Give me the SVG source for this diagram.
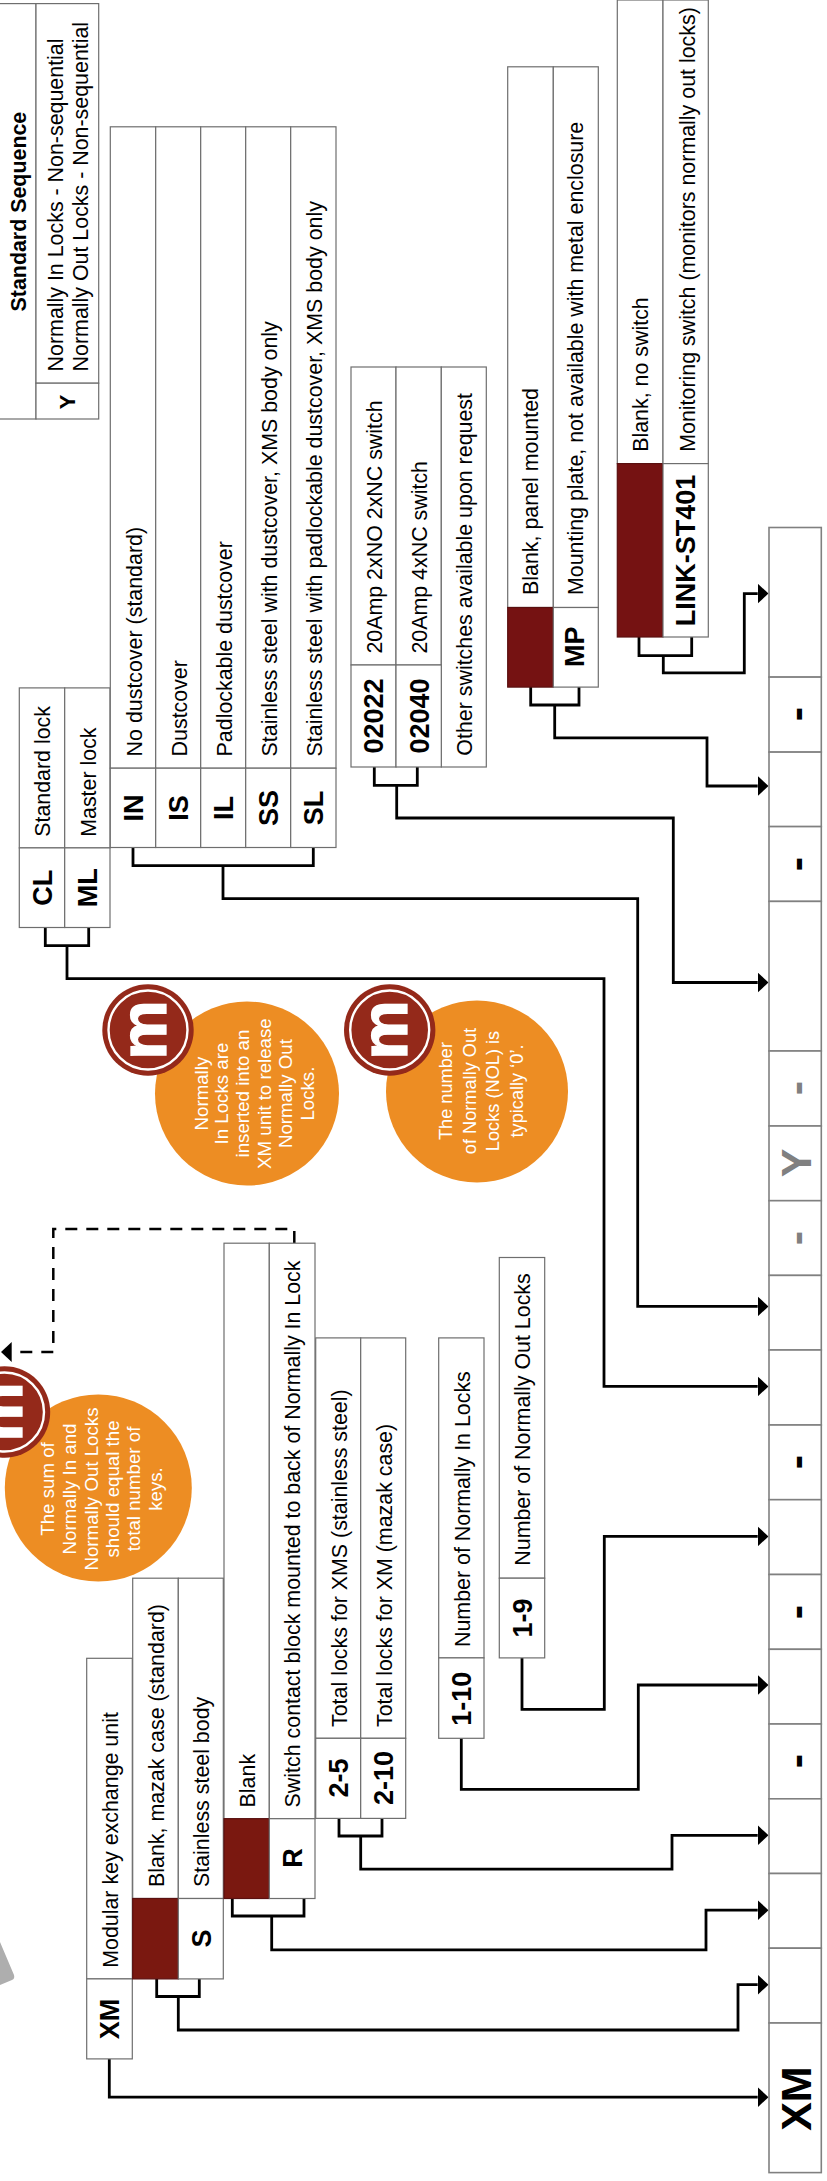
<svg xmlns="http://www.w3.org/2000/svg" width="827" height="2181" viewBox="0 0 827 2181">
<defs>
<style>
text{font-family:"Liberation Sans",Arial,sans-serif;fill:#000}
.t{font-size:21.4px}
.c{font-size:27px;font-weight:700;text-anchor:middle}
.y{font-size:22px}
.h{font-size:21.4px;font-weight:700;text-anchor:middle}
.b{fill:#fff;text-anchor:middle}
.s1{font-size:18.7px}
.s2{font-size:18.2px}
.m{fill:#fff;font-size:67px;font-weight:700;text-anchor:middle;stroke:#fff;stroke-width:1.2px}
.x{font-size:43px;font-weight:700;text-anchor:middle}
.g{fill:#808080}
rect{fill:#fff;stroke:#6e6e6e;stroke-width:1.2}
rect.r{fill:#751212;stroke:#5a1010}
rect.r2{fill:#7A1810;stroke:#5a1010}
rect.o{stroke:#808080;stroke-width:1.6}
.wire{fill:none;stroke:#000;stroke-width:2.8}
.dash{fill:none;stroke:#000;stroke-width:2.5;stroke-dasharray:12 9}
.bub{fill:#ED8D23}
.lg{fill:#94291A}
.rg{fill:none;stroke:#fff;stroke-width:2.4}
</style>
<marker id="ah" markerUnits="userSpaceOnUse" markerWidth="11" markerHeight="20" refX="0" refY="10" orient="auto"><path d="M0,0 L10.8,10 L0,20 z" fill="#000"/></marker>
</defs>

<path id="blob" d="M0,1942 L14,1975 Q15,1979 12,1980 L0,1985 z" fill="#AEAEAE"/>

<g id="connectors">
<path class="wire" marker-end="url(#ah)" d="M109.3,2058.9 V2097.2 H757.7"/>
<path class="wire" d="M156.7,1978.9 V1996.5 H199.3 V1978.9"/>
<path class="wire" marker-end="url(#ah)" d="M178.3,1996.5 V2030 H738 V1984.7 H757.7"/>
<path class="wire" d="M232.3,1898.5 V1916 H304 V1898.5"/>
<path class="wire" marker-end="url(#ah)" d="M271.7,1916 V1949.9 H706 V1910.2 H757.7"/>
<path class="wire" d="M339,1818.4 V1836 H382 V1818.4"/>
<path class="wire" marker-end="url(#ah)" d="M360.7,1836 V1869.1 H672 V1835.3 H757.7"/>
<path class="wire" marker-end="url(#ah)" d="M461.3,1738.3 V1789.4 H638.3 V1685 H757.7"/>
<path class="wire" marker-end="url(#ah)" d="M522,1657.9 V1709.4 H604.3 V1536.4 H757.7"/>
<path class="wire" d="M45.3,927.5 V945.7 H88.7 V927.5"/>
<path class="wire" marker-end="url(#ah)" d="M67,945.7 V978.6 H604 V1386.4 H757.7"/>
<path class="wire" d="M133,847.5 V865.7 H313.3 V847.5"/>
<path class="wire" marker-end="url(#ah)" d="M223,865.7 V898.6 H637.7 V1306.4 H757.7"/>
<path class="wire" d="M374.3,767 V785.4 H417.3 V767"/>
<path class="wire" marker-end="url(#ah)" d="M396.7,785.4 V818 H673.3 V982.5 H757.7"/>
<path class="wire" d="M530.7,687.1 V705 H579 V687.1"/>
<path class="wire" marker-end="url(#ah)" d="M554.7,705 V737.9 H707 V786 H757.7"/>
<path class="wire" d="M639,637 V655.7 H691.7 V637"/>
<path class="wire" marker-end="url(#ah)" d="M663.3,655.7 V672.9 H744.3 V593.6 H757.7"/>
<path class="dash" marker-end="url(#ah)" d="M294.3,1243 V1229 H53.3 V1352 H11.7"/>
</g>

<g id="note-nil">
<circle class="bub" cx="247" cy="1093.6" r="92"/>
<circle class="lg" cx="148" cy="1030" r="45.7"/>
<circle class="rg" cx="148" cy="1030" r="39.5"/>
<text class="m" transform="translate(165.5 1030) rotate(-90)">m</text>
<text class="b s1" transform="translate(208.3 1093.6) rotate(-90)">Normally</text>
<text class="b s1" transform="translate(227.7 1093.6) rotate(-90)">In Locks are</text>
<text class="b s1" transform="translate(249 1093.6) rotate(-90)">inserted into an</text>
<text class="b s1" transform="translate(270.7 1093.6) rotate(-90)">XM unit to release</text>
<text class="b s1" transform="translate(292 1093.6) rotate(-90)">Normally Out</text>
<text class="b s1" transform="translate(313.7 1093.6) rotate(-90)">Locks.</text>
</g>

<g id="note-nol">
<circle class="bub" cx="477" cy="1091.5" r="91"/>
<circle class="lg" cx="389.7" cy="1030" r="45.7"/>
<circle class="rg" cx="389.7" cy="1030" r="39.5"/>
<text class="m" transform="translate(407.2 1030) rotate(-90)">m</text>
<text class="b s2" transform="translate(451.7 1091) rotate(-90)">The number</text>
<text class="b s2" transform="translate(475.5 1091) rotate(-90)">of Normally Out</text>
<text class="b s2" transform="translate(499.3 1091) rotate(-90)">Locks (NOL) is</text>
<text class="b s2" transform="translate(523.3 1091) rotate(-90)">typically ‘0’.</text>
</g>

<g id="note-sum">
<circle class="bub" cx="98.3" cy="1488" r="93.5"/>
<circle class="lg" cx="4.5" cy="1412" r="45.7"/>
<circle class="rg" cx="4.5" cy="1412" r="39.5"/>
<text class="m" transform="translate(22 1412) rotate(-90)">m</text>
<text class="b s1" transform="translate(54.3 1489) rotate(-90)">The sum of</text>
<text class="b s1" transform="translate(76 1489) rotate(-90)">Normally In and</text>
<text class="b s1" transform="translate(97.7 1489) rotate(-90)">Normally Out Locks</text>
<text class="b s1" transform="translate(119 1489) rotate(-90)">should equal the</text>
<text class="b s1" transform="translate(140 1489) rotate(-90)">total number of</text>
<text class="b s1" transform="translate(161.7 1489) rotate(-90)">keys.</text>
</g>

<g id="node-sequence">
<rect x="-5" y="3.6" width="41" height="415.4"/>
<rect x="36" y="3.6" width="62.7" height="379.6"/>
<rect x="36" y="383.2" width="62.7" height="35.8"/>
<text class="h" transform="translate(25.8 211.6) rotate(-90)">Standard Sequence</text>
<text class="t" transform="translate(63.3 371.4) rotate(-90)">Normally In Locks - Non-sequential</text>
<text class="t" transform="translate(88.3 371.4) rotate(-90)">Normally Out Locks - Non-sequential</text>
<text class="c y" style="font-size:22px" transform="translate(75.3 402) rotate(-90)">Y</text>
</g>

<g id="node-lock">
<rect x="19.3" y="687.9" width="45.4" height="160"/><rect x="64.7" y="687.9" width="45.3" height="160"/>
<rect x="19.3" y="847.9" width="45.4" height="79.6"/><rect x="64.7" y="847.9" width="45.3" height="79.6"/>
<text class="t" transform="translate(50 836.8) rotate(-90)">Standard lock</text>
<text class="t" transform="translate(95.7 836.8) rotate(-90)">Master lock</text>
<text class="c" transform="translate(51.5 887.7) rotate(-90)">CL</text>
<text class="c" transform="translate(97 887.7) rotate(-90)">ML</text>
</g>

<g id="node-dustcover">
<rect x="110.3" y="126.8" width="45.4" height="641.4"/><rect x="155.7" y="126.8" width="45" height="641.4"/><rect x="200.7" y="126.8" width="45" height="641.4"/><rect x="245.7" y="126.8" width="45" height="641.4"/><rect x="290.7" y="126.8" width="45.3" height="641.4"/>
<rect x="110.3" y="768.2" width="45.4" height="79.3"/><rect x="155.7" y="768.2" width="45" height="79.3"/><rect x="200.7" y="768.2" width="45" height="79.3"/><rect x="245.7" y="768.2" width="45" height="79.3"/><rect x="290.7" y="768.2" width="45.3" height="79.3"/>
<text class="t" transform="translate(141.7 756.4) rotate(-90)">No dustcover (standard)</text>
<text class="t" transform="translate(186.7 756.4) rotate(-90)">Dustcover</text>
<text class="t" transform="translate(231.7 756.4) rotate(-90)">Padlockable dustcover</text>
<text class="t" transform="translate(276.7 756.4) rotate(-90)">Stainless steel with dustcover, XMS body only</text>
<text class="t" transform="translate(322 756.4) rotate(-90)">Stainless steel with padlockable dustcover, XMS body only</text>
<text class="c" transform="translate(143.3 808) rotate(-90)">IN</text>
<text class="c" transform="translate(188.3 808) rotate(-90)">IS</text>
<text class="c" transform="translate(233.3 808) rotate(-90)">IL</text>
<text class="c" transform="translate(278.3 808) rotate(-90)">SS</text>
<text class="c" transform="translate(323.3 808) rotate(-90)">SL</text>
</g>

<g id="node-switch">
<rect x="351" y="367" width="45" height="298"/><rect x="396" y="367" width="45.3" height="298"/>
<rect x="441.3" y="367" width="45" height="400"/>
<rect x="351" y="665" width="45" height="102"/><rect x="396" y="665" width="45.3" height="102"/>
<text class="t" transform="translate(381.7 653.6) rotate(-90)">20Amp 2xNO 2xNC switch</text>
<text class="t" transform="translate(427.3 653.6) rotate(-90)">20Amp 4xNC switch</text>
<text class="t" transform="translate(471.7 755.7) rotate(-90)">Other switches available upon request</text>
<text class="c" transform="translate(383.3 716) rotate(-90)">02022</text>
<text class="c" transform="translate(428.5 716) rotate(-90)">02040</text>
</g>

<g id="node-mount">
<rect x="507.7" y="66.8" width="45.6" height="540.7"/><rect x="553.3" y="66.8" width="45" height="540.7"/>
<rect class="r" x="507.7" y="607.5" width="45.6" height="79.6"/><rect x="553.3" y="607.5" width="45" height="79.6"/>
<text class="t" transform="translate(538.3 595) rotate(-90)">Blank, panel mounted</text>
<text class="t" transform="translate(583.3 595) rotate(-90)">Mounting plate, not available with metal enclosure</text>
<text class="c" transform="translate(584.3 646.8) rotate(-90)">MP</text>
</g>

<g id="node-monitor">
<rect x="617.3" y="0" width="45.7" height="463.6"/><rect x="663" y="0" width="45.3" height="463.6"/>
<rect class="r" x="617.3" y="463.6" width="45.7" height="173.4"/><rect x="663" y="463.6" width="45.3" height="173.4"/>
<text class="t" transform="translate(648.3 451.8) rotate(-90)">Blank, no switch</text>
<text class="t" transform="translate(695 451.8) rotate(-90)">Monitoring switch (monitors normally out locks)</text>
<text class="c" transform="translate(695.3 550.5) rotate(-90)">LINK-ST401</text>
</g>

<g id="node-xm">
<rect x="86.7" y="1658.3" width="45.6" height="320.6"/><rect x="86.7" y="1978.9" width="45.6" height="80"/>
<text class="t" transform="translate(117.7 1967.8) rotate(-90)">Modular key exchange unit</text>
<text class="c" transform="translate(119.3 2018.9) rotate(-90)">XM</text>
</g>

<g id="node-body">
<rect x="132.7" y="1578.2" width="45.6" height="320.3"/><rect x="178.3" y="1578.2" width="45" height="320.3"/>
<rect class="r2" x="132.7" y="1898.5" width="45.6" height="80.4"/><rect x="178.3" y="1898.5" width="45" height="80.4"/>
<text class="t" transform="translate(164.3 1887) rotate(-90)">Blank, mazak case (standard)</text>
<text class="t" transform="translate(209.3 1887) rotate(-90)">Stainless steel body</text>
<text class="c" transform="translate(211 1938.5) rotate(-90)">S</text>
</g>

<g id="node-contact">
<rect x="224" y="1243.2" width="45.3" height="575.5"/><rect x="269.3" y="1243.2" width="45.7" height="575.5"/>
<rect class="r2" x="224" y="1818.7" width="45.3" height="79.8"/><rect x="269.3" y="1818.7" width="45.7" height="79.8"/>
<text class="t" transform="translate(255 1807.4) rotate(-90)">Blank</text>
<text class="t" transform="translate(300 1807.4) rotate(-90)">Switch contact block mounted to back of Normally In Lock</text>
<text class="c" transform="translate(301.7 1858) rotate(-90)">R</text>
</g>

<g id="node-total">
<rect x="315.7" y="1337.9" width="45" height="400.4"/><rect x="360.7" y="1337.9" width="45" height="400.4"/>
<rect x="315.7" y="1738.3" width="45" height="80.1"/><rect x="360.7" y="1738.3" width="45" height="80.1"/>
<text class="t" transform="translate(346.7 1727) rotate(-90)">Total locks for XMS (stainless steel)</text>
<text class="t" transform="translate(391.7 1727) rotate(-90)">Total locks for XM (mazak case)</text>
<text class="c" transform="translate(347.7 1778) rotate(-90)">2-5</text>
<text class="c" transform="translate(393.3 1778) rotate(-90)">2-10</text>
</g>

<g id="node-nil">
<rect x="438.7" y="1337.9" width="45.3" height="320"/><rect x="438.7" y="1657.9" width="45.3" height="80.4"/>
<text class="t" transform="translate(470 1647) rotate(-90)">Number of Normally In Locks</text>
<text class="c" transform="translate(471 1698.7) rotate(-90)">1-10</text>
</g>

<g id="node-nol">
<rect x="499.3" y="1257.5" width="45.4" height="320.7"/><rect x="499.3" y="1578.2" width="45.4" height="79.7"/>
<text class="t" transform="translate(530 1565.7) rotate(-90)">Number of Normally Out Locks</text>
<text class="c" transform="translate(531.7 1618) rotate(-90)">1-9</text>
</g>

<g id="node-code-bar">
<rect class="o" x="769" y="527.5" width="52.3" height="149.6"/>
<rect class="o" x="769" y="677.1" width="52.3" height="75"/>
<rect class="o" x="769" y="752.1" width="52.3" height="74.5"/>
<rect class="o" x="769" y="826.6" width="52.3" height="74.8"/>
<rect class="o" x="769" y="901.4" width="52.3" height="149.6"/>
<rect class="o" x="769" y="1051" width="52.3" height="75"/>
<rect class="o" x="769" y="1126" width="52.3" height="74.7"/>
<rect class="o" x="769" y="1200.7" width="52.3" height="74.7"/>
<rect class="o" x="769" y="1275.4" width="52.3" height="74.6"/>
<rect class="o" x="769" y="1350" width="52.3" height="75"/>
<rect class="o" x="769" y="1425" width="52.3" height="74.7"/>
<rect class="o" x="769" y="1499.7" width="52.3" height="74.8"/>
<rect class="o" x="769" y="1574.5" width="52.3" height="74.8"/>
<rect class="o" x="769" y="1649.3" width="52.3" height="74.7"/>
<rect class="o" x="769" y="1724" width="52.3" height="74.8"/>
<rect class="o" x="769" y="1798.8" width="52.3" height="74.7"/>
<rect class="o" x="769" y="1873.5" width="52.3" height="74.7"/>
<rect class="o" x="769" y="1948.2" width="52.3" height="74.8"/>
<rect class="o" x="769" y="2023" width="52.3" height="149.6"/>
<text class="x" transform="translate(811 714) rotate(-90)">-</text>
<text class="x" transform="translate(811 864) rotate(-90)">-</text>
<text class="x g" transform="translate(811 1088) rotate(-90)">-</text>
<text class="x g" transform="translate(811 1163) rotate(-90)">Y</text>
<text class="x g" transform="translate(811 1238) rotate(-90)">-</text>
<text class="x" transform="translate(811 1462) rotate(-90)">-</text>
<text class="x" transform="translate(811 1612) rotate(-90)">-</text>
<text class="x" transform="translate(811 1761) rotate(-90)">-</text>
<text class="x" transform="translate(811 2098.6) rotate(-90)">XM</text>
</g>
</svg>
